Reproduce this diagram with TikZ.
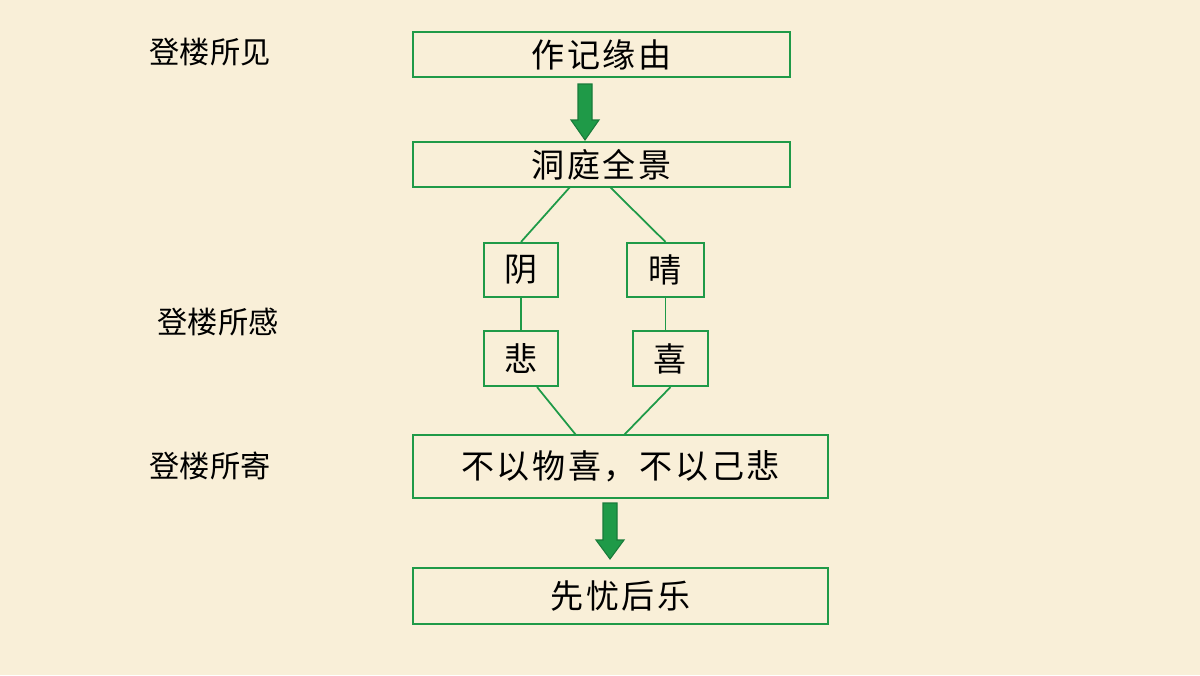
\documentclass[tikz,border=0pt]{standalone}
\usepackage{fontspec}
\newfontfamily\cjk{Noto Sans CJK SC}
\newfontfamily\cjkb[LetterSpace=8]{Noto Sans CJK SC}
\usetikzlibrary{shapes.arrows}
\definecolor{bg}{HTML}{F9EFD8}
\definecolor{gr}{HTML}{1F9A48}
\begin{document}
\begin{tikzpicture}[x=0.01cm,y=-0.01cm,
 box/.style={draw=gr,line width=0.6pt,fill=none,inner sep=0pt,font=\cjkb\fontsize{9.4pt}{10pt}\selectfont},
 lab/.style={font=\cjk\fontsize{8.6pt}{9pt}\selectfont},
 ln/.style={draw=gr,line width=0.5pt},
 arr/.style={fill=gr,draw=gr!80!black,line width=0.3pt}]
\fill[bg] (0,0) rectangle (1200,675);
\useasboundingbox (0,0) rectangle (1200,675);
\node[box,minimum width=3.77cm,minimum height=0.45cm] (a) at (601.5,54.5) {作记缘由};
\node[box,minimum width=3.77cm,minimum height=0.45cm] (b) at (601.5,164.5) {洞庭全景};
\node[box,minimum width=0.74cm,minimum height=0.54cm] (y) at (521,270) {阴};
\node[box,minimum width=0.77cm,minimum height=0.54cm] (q) at (665.5,270) {晴};
\node[box,minimum width=0.74cm,minimum height=0.55cm] (s) at (521,358.5) {悲};
\node[box,minimum width=0.75cm,minimum height=0.55cm] (x) at (670.5,358.5) {喜};
\node[box,minimum width=4.15cm,minimum height=0.63cm] (c) at (620.5,466.5) {不以物喜，不以己悲};
\node[box,minimum width=4.15cm,minimum height=0.56cm] (d) at (620.5,596) {先忧后乐};
\node[lab] (l1) at (210,52) {登楼所见};
\node[lab] (l2) at (218,322) {登楼所感};
\node[lab] (l3) at (210,466) {登楼所寄};
\coordinate (b1) at (570,187); \coordinate (b2) at (610,187);
\draw[ln] (b1) -- (y.north); \draw[ln] (b2) -- (q.north);
\draw[ln] (y) -- (s); \draw[ln] (q.south) -- (q.south|-x.north);
\coordinate (c1) at (576,435); \coordinate (c2) at (624,435);
\draw[ln] (s.south east) ++(-22,0) coordinate (s1) (s1) -- (c1);
\draw[ln] (x.south) -- (c2);
\draw[arr] (578,84) -- (592,84) -- (592,120) -- (599,120) -- (585,140) -- (571,120) -- (578,120) -- cycle;
\draw[arr] (603,503) -- (617,503) -- (617,540) -- (624,540) -- (610,559) -- (596,540) -- (603,540) -- cycle;
\end{tikzpicture}
\end{document}
